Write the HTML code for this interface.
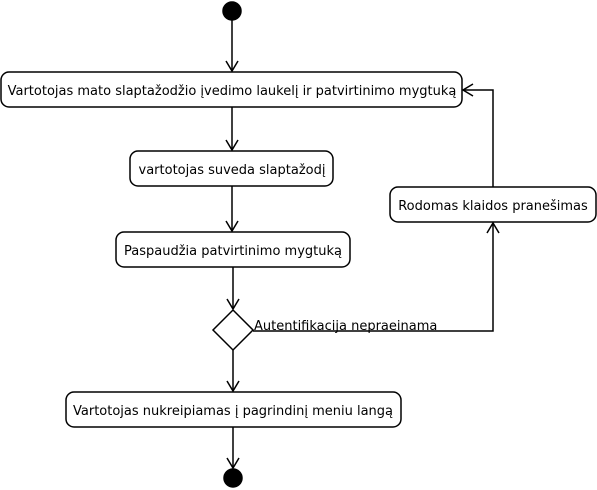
<!DOCTYPE html>
<html><head><meta charset="utf-8"><style>
html,body{margin:0;padding:0;background:#fff;}
svg{display:block;}
text{font-family:"DejaVu Sans","Liberation Sans",sans-serif;font-size:13px;fill:#000;}
</style></head><body>
<svg width="597" height="490" viewBox="0 0 597 490" xmlns="http://www.w3.org/2000/svg">
<g stroke="#000" stroke-width="1.5" fill="none">
<circle cx="232" cy="11" r="9" fill="#000"/>
<circle cx="233" cy="478" r="9" fill="#000"/>
<line x1="232" y1="20" x2="232" y2="71"/>
<path d="M226,61 L232,71 L238,61"/>
<rect x="1" y="72" width="461" height="35" rx="8"/>
<line x1="232" y1="107" x2="232" y2="150"/>
<path d="M226,140 L232,150 L238,140"/>
<rect x="130" y="151" width="203" height="35" rx="8"/>
<line x1="232" y1="186" x2="232" y2="231"/>
<path d="M226,221 L232,231 L238,221"/>
<rect x="116" y="232" width="234" height="35" rx="8"/>
<line x1="233" y1="267" x2="233" y2="309"/>
<path d="M227,299 L233,309 L239,299"/>
<path d="M233,310 L253,330 L233,350 L213,330 Z"/>
<line x1="233" y1="350" x2="233" y2="391"/>
<path d="M227,381 L233,391 L239,381"/>
<rect x="66" y="392" width="335" height="35" rx="8"/>
<line x1="233" y1="427" x2="233" y2="468"/>
<path d="M227,458 L233,468 L239,458"/>
<path d="M253,331 L493,331 L493,223"/>
<path d="M487,233 L493,223 L499,233"/>
<rect x="390" y="187" width="206" height="35" rx="8"/>
<path d="M493,187 L493,90 L463,90"/>
<path d="M473,84 L463,90 L473,96"/>
</g>
<text x="232" y="95" text-anchor="middle">Vartotojas mato slaptažodžio įvedimo laukelį ir patvirtinimo mygtuką</text>
<text x="232" y="174" text-anchor="middle">vartotojas suveda slaptažodį</text>
<text x="233" y="255" text-anchor="middle">Paspaudžia patvirtinimo mygtuką</text>
<text x="233" y="415" text-anchor="middle">Vartotojas nukreipiamas į pagrindinį meniu langą</text>
<text x="493" y="210" text-anchor="middle">Rodomas klaidos pranešimas</text>
<text x="254" y="330">Autentifikacija nepraeinama</text>
</svg>
</body></html>
